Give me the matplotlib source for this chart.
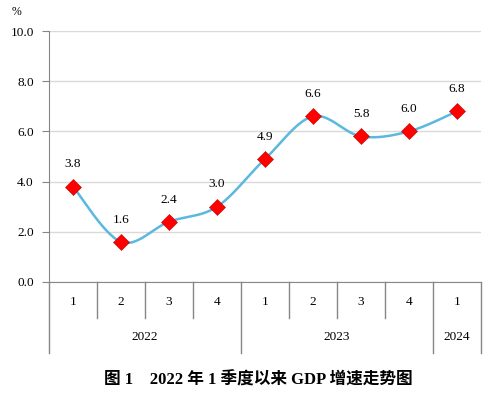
import matplotlib
matplotlib.use("Agg")
import matplotlib.pyplot as plt
import matplotlib.transforms as mtransforms
import numpy as np

quarters = ["1", "2", "3", "4", "1", "2", "3", "4", "1"]
years = ["2022", "2023", "2024"]
year_spans = [(0, 4), (4, 8), (8, 9)]
values = [3.8, 1.6, 2.4, 3.0, 4.9, 6.6, 5.8, 6.0, 6.8]
yticks = [0.0, 2.0, 4.0, 6.0, 8.0, 10.0]
title = "图 1　2022 年 1 季度以来 GDP 增速走势图"

plt.rcParams['font.family'] = ['Liberation Serif', 'Noto Sans CJK SC']

fig = plt.figure(figsize=(4.91, 3.93), dpi=100)
ax = fig.add_axes([49/491, (393-282)/393, (481-49)/491, (282-31)/393])

x = np.arange(len(values))
y = np.array(values)

# Smooth curve (cardinal / Catmull-Rom style Bezier as in Excel)
def smooth(xs, ys, n=30):
    px = np.concatenate([[xs[0]], xs, [xs[-1]]])
    py = np.concatenate([[ys[0]], ys, [ys[-1]]])
    outx, outy = [], []
    for i in range(1, len(px) - 2):
        p0 = np.array([px[i], py[i]])
        p3 = np.array([px[i+1], py[i+1]])
        c1 = p0 + (np.array([px[i+1], py[i+1]]) - np.array([px[i-1], py[i-1]])) / 6
        c2 = p3 - (np.array([px[i+2], py[i+2]]) - np.array([px[i], py[i]])) / 6
        t = np.linspace(0, 1, n)[:, None]
        b = (1-t)**3*p0 + 3*(1-t)**2*t*c1 + 3*(1-t)*t**2*c2 + t**3*p3
        outx.extend(b[:, 0]); outy.extend(b[:, 1])
    return np.array(outx), np.array(outy)

sx, sy = smooth(x.astype(float), y)
ax.plot(sx, sy, color='#5BB8DE', lw=1.8, zorder=3)
ax.plot(x, y, linestyle='none', marker='D', markersize=8.5, color='#FF0000',
        markeredgecolor='#C00000', markeredgewidth=0.4, zorder=4)

fs = 9.5
for xi, yi in zip(x, y):
    ax.annotate(f"{yi:.1f}", (xi, yi), xytext=(0, 16), textcoords='offset points',
                ha='center', va='center', fontsize=fs, color='black')

ax.set_xlim(-0.5, len(values) - 0.5)
ax.set_ylim(0, 10)
ax.set_yticks(yticks)
ax.set_yticklabels([f"{v:.1f}" for v in yticks], fontsize=fs)
ax.yaxis.grid(True, color='#D9D9D9', lw=1)
ax.set_axisbelow(True)
ax.set_xticks([])
for s in ['top', 'right']:
    ax.spines[s].set_visible(False)
ax.spines['left'].set_color('#868686')
ax.spines['bottom'].set_color('#868686')
ax.tick_params(axis='y', length=5, color='#868686', pad=6)

trans = mtransforms.blended_transform_factory(ax.transData, ax.transAxes)
h = 251.0
for i, q in enumerate(quarters):
    ax.text(i, -20/h, q, transform=trans, ha='center', va='center', fontsize=fs)
bounds = set()
for (a, b) in year_spans:
    bounds.add(a); bounds.add(b)
for b in range(len(quarters) + 1):
    low = -71/h if b in bounds else -36/h
    ax.plot([b - 0.5, b - 0.5], [0, low], transform=trans, color='#868686',
            lw=1, clip_on=False)
for yr, (a, b) in zip(years, year_spans):
    ax.text((a + b - 1) / 2, -55/h, yr, transform=trans, ha='center', va='center', fontsize=fs)

fig.text(17/491, 1 - 12/393, "%", ha='center', va='center', fontsize=8.5)
fig.text(258/491, 1 - 380/393, title, ha='center', va='center', fontsize=12, fontweight='bold')

fig.savefig("out.png", dpi=100)
